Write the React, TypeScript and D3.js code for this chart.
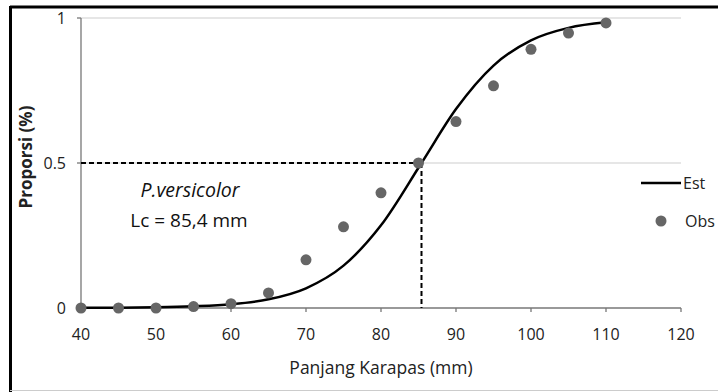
import React from "react";
import * as d3 from "d3";

const obsLength = [40, 45, 50, 55, 60, 65, 70, 75, 80, 85, 90, 95, 100, 105, 110];
const obsProp = [0, 0, 0, 0.005, 0.015, 0.052, 0.166, 0.28, 0.397, 0.5, 0.643, 0.766, 0.892, 0.948, 0.983];

const estLength = [40, 45, 50, 55, 60, 65, 70, 75, 80, 85.4, 90, 95, 100, 105, 110];
const estProp = [0.0005, 0.001, 0.0025, 0.006, 0.013, 0.03, 0.068, 0.146, 0.285, 0.5, 0.686, 0.836, 0.923, 0.966, 0.985];

const xTicks = [40, 50, 60, 70, 80, 90, 100, 110, 120];
const yTicks = [0, 0.5, 1];
const yTickLabels = ["0", "0.5", "1"];
const lc = 85.4;

const W = 718;
const H = 392;
const FONT = "'Open Sans', sans-serif";

export default function App() {
  const x = d3.scaleLinear().domain([40, 120]).range([81, 681]);
  const y = d3.scaleLinear().domain([0, 1]).range([308, 18]);

  const line = d3
    .line<number>()
    .x((_, i) => x(estLength[i]))
    .y((d) => y(d))
    .curve(d3.curveMonotoneX);

  return (
    <svg
      width={W}
      height={H}
      style={{ position: "absolute", left: 0, top: 0, background: "#fff" }}
    >
      <rect x={0} y={0} width={W} height={H} fill="#fff" />
      {/* border */}
      <line x1={10} x2={W} y1={7} y2={7} stroke="#000" strokeWidth={3} />
      <line x1={10.5} x2={10.5} y1={6} y2={H} stroke="#000" strokeWidth={3} />
      <line x1={10} x2={W} y1={390.5} y2={390.5} stroke="#ccc" strokeWidth={1} />

      {/* gridlines */}
      {yTicks.slice(1).map((t) => (
        <line key={t} x1={x(40)} x2={x(120)} y1={y(t)} y2={y(t)} stroke="#dedede" strokeWidth={1.5} />
      ))}

      {/* axes */}
      <line x1={x(40)} x2={x(40)} y1={y(1)} y2={y(0)} stroke="#777" strokeWidth={1.3} />
      <line x1={x(40)} x2={x(120)} y1={y(0)} y2={y(0)} stroke="#777" strokeWidth={1.3} />
      {yTicks.map((t) => (
        <line key={t} x1={x(40) - 4} x2={x(40)} y1={y(t)} y2={y(t)} stroke="#777" strokeWidth={1.3} />
      ))}
      {xTicks.map((t) => (
        <line key={t} x1={x(t)} x2={x(t)} y1={y(0)} y2={y(0) + 4} stroke="#777" strokeWidth={1.3} />
      ))}

      {/* tick labels */}
      {xTicks.map((t) => (
        <text key={t} x={x(t)} y={y(0) + 32} textAnchor="middle" fontFamily={FONT} fontSize={16} fill="#222">
          {t}
        </text>
      ))}
      {yTicks.map((t, i) => (
        <text key={t} x={x(40) - 15} y={y(t) + 6} textAnchor="end" fontFamily={FONT} fontSize={16} fill="#222">
          {yTickLabels[i]}
        </text>
      ))}

      {/* axis titles */}
      <text x={381} y={374} textAnchor="middle" fontFamily={FONT} fontSize={17.5} fill="#222">
        Panjang Karapas (mm)
      </text>
      <text
        transform={`translate(32,157) rotate(-90)`}
        textAnchor="middle"
        fontFamily={FONT}
        fontSize={17}
        fontWeight="bold"
        fill="#222"
      >
        Proporsi (%)
      </text>

      {/* dashed Lc lines */}
      <line x1={x(40)} x2={x(lc)} y1={y(0.5)} y2={y(0.5)} stroke="#000" strokeWidth={2} strokeDasharray="5,3" />
      <line x1={x(lc)} x2={x(lc)} y1={y(0.5)} y2={y(0)} stroke="#000" strokeWidth={2} strokeDasharray="5,3" />

      {/* estimated curve */}
      <path d={line(estProp) || ""} fill="none" stroke="#000" strokeWidth={2.5} />

      {/* observed points */}
      {obsProp.map((v, i) => (
        <circle key={i} cx={x(obsLength[i])} cy={y(v)} r={5.5} fill="#666" />
      ))}

      {/* annotation */}
      <text x={190} y={197} textAnchor="middle" fontFamily={FONT} fontSize={19.5} fontStyle="italic" fill="#111">
        P.versicolor
      </text>
      <text x={189} y={227} textAnchor="middle" fontFamily={FONT} fontSize={19} fill="#111">
        Lc = 85,4 mm
      </text>

      {/* legend */}
      <line x1={641} x2={681} y1={183} y2={183} stroke="#000" strokeWidth={2.5} />
      <text x={683} y={189} fontFamily={FONT} fontSize={16} fill="#222">
        Est
      </text>
      <circle cx={661} cy={221} r={5.5} fill="#666" />
      <text x={685} y={227} fontFamily={FONT} fontSize={16} fill="#222">
        Obs
      </text>
    </svg>
  );
}
